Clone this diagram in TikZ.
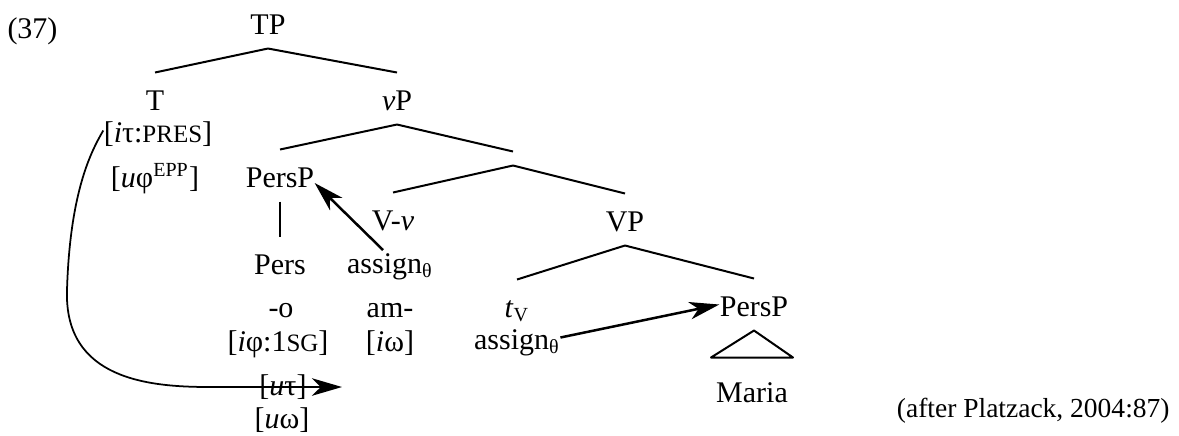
\documentclass[tikz,border=0pt]{standalone}
\usepackage{fontspec}
\setmainfont{Liberation Serif}
\usetikzlibrary{arrows.meta}
% fake small capitals for feature values
\newcommand\fsc[1]{{\fontsize{10}{12}\selectfont #1}}

\begin{document}
\begin{tikzpicture}[
        x=.4pt, y=-.4pt,
        line join=round,
        every node/.style={font=\fontsize{12}{14}\selectfont, inner sep=0pt},
        word/.style={anchor=base, text height=14.8pt, text depth=5.6pt},
        branch/.style={line width=.8pt},
        move/.style={line width=1pt, -{Stealth[length=12pt, width=7pt, inset=3.5pt]}}
    ]
    \useasboundingbox (0,0) rectangle (1179,435);

    \node[anchor=base west] (num) at (7,38) {(37)};

    \node[word] (TP) at (268,34) {TP};
    \node[word] (T) at (155,110) {T};
    \node[word] (vP) at (397,110) {\textit{v}P};
    \node[word] (itau) at (158,142) {[\textit{i}τ:\fsc{PRES}]};
    \node[word] (uphi) at (155,187) {[\textit{u}φ\textsuperscript{EPP}]};
    \node[word] (PersPa) at (280,187) {PersP};
    % v-bar has no label
    \node[minimum height=5.2pt] (vbar) at (513,158.5) {};
    \node[word] (Vv) at (393,230) {V-\textit{v}};
    \node[word] (VP) at (625,231) {VP};
    \node[word] (Pers) at (280,274) {Pers};
    \node[word] (assigna) at (390,273) {assign\textsubscript{θ}};
    \node[word] (o) at (281,317) {-o};
    \node[word] (am) at (390,317) {am-};
    \node[word] (tV) at (517,317) {\textit{t}\textsubscript{V}};
    \node[word] (PersPb) at (754,316) {PersP};
    \node[word] (iphi) at (278,351) {[\textit{i}φ:1\fsc{SG}]};
    \node[word] (iomega) at (390,351) {[\textit{i}ω]};
    \node[word] (assignb) at (517,349) {assign\textsubscript{θ}};
    \node[word] (utau) at (283,395) {[\textit{u}τ]};
    \node[word] (Maria) at (752,402) {Maria};
    \node[word] (uomega) at (282,428) {[\textit{u}ω]};

    \node[anchor=base east, font=\fontsize{11}{13}\selectfont] (cite) at (1170,417) {(after Platzack, 2004:87)};

    \foreach \a/\b in {TP/T, TP/vP, vP/PersPa, vP/vbar, vbar/Vv, vbar/VP,
                       PersPa/Pers, VP/tV, VP/PersPb}
        \draw[branch] (\a.south) -- (\b.north);
    \draw[branch] (PersPb.south) -- ([shift={(-41,-7)}]Maria.north)
        -- ([shift={(41,-7)}]Maria.north) -- cycle;

    % tense feature runs down and strikes through [u tau]
    \coordinate (strike) at (342,387);
    \draw[move, line width=.7pt] (itau.west)
        .. controls (92,150) and (70,190) .. (67,290)
        .. controls (64,380) and (150,387) .. (210,387) -- (strike);

    \draw[move] ([shift={(-7,-23)}]assigna.base) -- ([shift={(0,-4)}]PersPa.base east);
    \draw[move] (assignb.east) -- (PersPb.west);
\end{tikzpicture}
\end{document}
